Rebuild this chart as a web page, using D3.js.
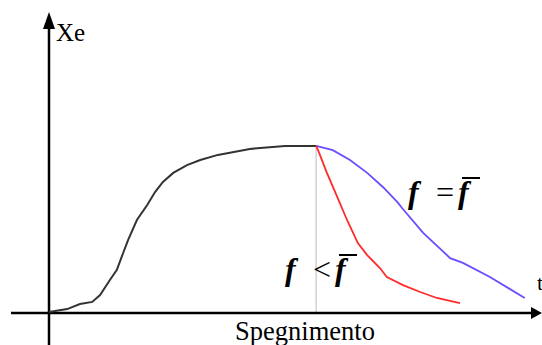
<!DOCTYPE html>
<html>
<head>
<meta charset="utf-8">
<script src="https://cdn.jsdelivr.net/npm/d3@7"></script>
<style>
  html, body { margin: 0; padding: 0; background: #fff; }
  svg { display: block; }
</style>
</head>
<body>
<script>
// Xenon concentration during operation and after shutdown (arbitrary units)
const buildTime = [0, 3.7, 6.3, 8.8, 10.4, 12.4, 13.8, 15.1, 16.1, 17.9, 20.0, 21.6, 23.2, 25.3, 28.1, 30.8, 34.4, 40.9, 48.1, 54.4];
const buildXe   = [0.3, 1.3, 3, 3.7, 6, 11, 14.3, 20, 24.3, 31, 36, 40.3, 43.7, 46.7, 49.3, 51, 52.7, 54.7, 55.7, 55.7];

// decay with nominal flux (f = f̄)
const nominalTime = [54.4, 57.8, 61.3, 64.8, 68.0, 71.1, 71.9, 76.2, 81.7, 84.3, 89.8, 96.9];
const nominalXe   = [55.7, 54.3, 51, 46.7, 42, 36.7, 35, 26.7, 18.3, 16.7, 12, 5];

// decay with reduced flux (f < f̄)
const reducedTime = [54.4, 54.8, 56.6, 58.7, 60.7, 62.9, 64.8, 67.4, 68.8, 72.1, 75.6, 79.0, 83.7];
const reducedXe   = [55.7, 54.3, 46.7, 38.7, 31, 23.3, 19.3, 15, 12, 9.3, 7, 5, 3.3];

const shutdownTime = 54.4;
const axisLabels = { y: "Xe", x: "t", shutdown: "Spegnimento" };

const W = 542, H = 345;
const serif = '"Liberation Serif", "Times New Roman", serif';
const svg = d3.select("body").append("svg").attr("width", W).attr("height", H);

const x = d3.scaleLinear().domain([0, 100]).range([49, 540]);
const y = d3.scaleLinear().domain([0, 100]).range([313, 13]);

const zip = (ts, vs) => ts.map((t, i) => ({ t, v: vs[i] }));
const line = d3.line().x(d => x(d.t)).y(d => y(d.v));

// shutdown marker
svg.append("line")
  .attr("x1", x(shutdownTime)).attr("x2", x(shutdownTime))
  .attr("y1", y(55.7)).attr("y2", y(0))
  .attr("stroke", "#bdbdbd").attr("stroke-width", 1);

// axes with arrowheads
const x0 = x(0), y0 = y(0);
svg.append("line").attr("x1", 11).attr("x2", x.range()[1] - 4)
  .attr("y1", y0).attr("y2", y0).attr("stroke", "#000").attr("stroke-width", 2.5);
svg.append("line").attr("x1", x0).attr("x2", x0)
  .attr("y1", H).attr("y2", y.range()[1] + 4).attr("stroke", "#000").attr("stroke-width", 2.5);
svg.append("path")
  .attr("d", `M${x.range()[1] + 2},${y0} L${x.range()[1] - 9},${y0 - 6} L${x.range()[1] - 9},${y0 + 6} Z`)
  .attr("fill", "#000");
svg.append("path")
  .attr("d", `M${x0},${y.range()[1] - 1} L${x0 - 6},${y.range()[1] + 16} L${x0 + 6},${y.range()[1] + 16} Z`)
  .attr("fill", "#000");

// curves
svg.append("path").datum(zip(buildTime, buildXe)).attr("d", line)
  .attr("fill", "none").attr("stroke", "#333").attr("stroke-width", 2);
svg.append("path").datum(zip(nominalTime, nominalXe)).attr("d", line)
  .attr("fill", "none").attr("stroke", "#6a4dff").attr("stroke-width", 1.8);
svg.append("path").datum(zip(reducedTime, reducedXe)).attr("d", line)
  .attr("fill", "none").attr("stroke", "#ff2a2a").attr("stroke-width", 1.8);

// axis labels
svg.append("text").attr("x", 56).attr("y", 41).text(axisLabels.y)
  .style("font-family", serif).style("font-size", "25px");
svg.append("text").attr("x", 537).attr("y", 290).text(axisLabels.x)
  .style("font-family", serif).style("font-size", "22px");
svg.append("text").attr("x", 305).attr("y", 340).attr("text-anchor", "middle")
  .text(axisLabels.shutdown)
  .style("font-family", serif).style("font-size", "26.5px");

// flux relation labels: f [op] f̄
function fluxLabel(xs, base, op) {
  const g = svg.append("g").style("font-family", serif).style("font-size", "32px");
  g.append("text").attr("x", xs - 2).attr("y", base).text("f")
    .style("font-weight", "bold").style("font-style", "italic");
  g.append("text").attr("x", xs + 26).attr("y", base).text(op);
  g.append("text").attr("x", xs + 48).attr("y", base).text("f")
    .style("font-weight", "bold").style("font-style", "italic");
  g.append("line")
    .attr("x1", xs + 52).attr("x2", xs + 70)
    .attr("y1", base - 25).attr("y2", base - 25)
    .attr("stroke", "#000").attr("stroke-width", 2);
}
fluxLabel(410, 203, "=");
fluxLabel(287, 280, "<");
</script>
</body>
</html>
